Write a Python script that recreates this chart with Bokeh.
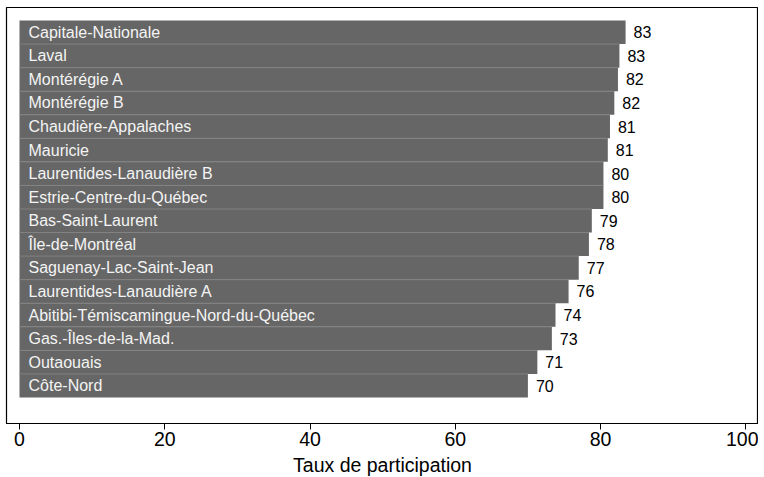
from bokeh.plotting import figure
from bokeh.models import ColumnDataSource, Range1d
from bokeh.core.properties import value
from bokeh.embed import file_html
from bokeh.resources import INLINE

regions = [
    "Capitale-Nationale", "Laval", "Montérégie A", "Montérégie B",
    "Chaudière-Appalaches", "Mauricie", "Laurentides-Lanaudière B",
    "Estrie-Centre-du-Québec", "Bas-Saint-Laurent", "Île-de-Montréal",
    "Saguenay-Lac-Saint-Jean", "Laurentides-Lanaudière A",
    "Abitibi-Témiscamingue-Nord-du-Québec", "Gas.-Îles-de-la-Mad.",
    "Outaouais", "Côte-Nord",
]
taux = [83.45, 82.6, 82.4, 81.9, 81.3, 81.0, 80.4, 80.4,
        78.8, 78.4, 77.0, 75.6, 73.8, 73.3, 71.3, 70.0]
x_ticks = [0, 20, 40, 60, 80, 100]
x_title = "Taux de participation"

FONT = "Liberation Sans"
n = len(regions)
ypos = [n - i for i in range(n)]
labels = [str(int(round(v))) for v in taux]

src = ColumnDataSource(dict(y=ypos, v=taux, name=regions, lab=labels))
sep_y = [ypos[i] - 0.5 for i in range(n - 1)]
sep_x1 = [min(taux[i], taux[i + 1]) for i in range(n - 1)]
sep = ColumnDataSource(dict(y=sep_y, x0=[0] * (n - 1), x1=sep_x1))

p = figure(frame_width=752, frame_height=416, output_backend="svg",
           toolbar_location=None, x_range=Range1d(-1.79, 101.75),
           y_range=Range1d(-0.604, 17.052),
           min_border_left=6, min_border_top=7, min_border_right=0,
           min_border_bottom=0)

p.hbar(y="y", left=0, right="v", height=1.0, source=src,
       fill_color="#666666", line_color=None)
p.segment(x0="x0", x1="x1", y0="y", y1="y", source=sep,
          line_color="#828282", line_width=1)
p.text(x=0, y="y", text="name", source=src, x_offset=9,
       text_baseline="middle", text_align="left",
       text_font=value(FONT), text_font_size="16px", text_color="#f4f4f4")
p.text(x="v", y="y", text="lab", source=src, x_offset=8,
       text_baseline="middle", text_align="left",
       text_font=value(FONT), text_font_size="16px", text_color="#000000")

p.yaxis.visible = False
p.xgrid.visible = False
p.ygrid.visible = False
p.outline_line_color = "#000000"
p.outline_line_width = 1.2
p.outline_line_alpha = 1.0

ax = p.xaxis[0]
ax.ticker = x_ticks
ax.axis_label = x_title
ax.axis_label_text_font = FONT
ax.axis_label_text_font_size = "19.5px"
ax.axis_label_text_font_style = "normal"
ax.axis_label_text_color = "#000000"
ax.axis_label_standoff = 5
ax.major_label_text_font = FONT
ax.major_label_text_font_size = "19.5px"
ax.major_label_text_color = "#000000"
ax.major_label_standoff = 2
ax.major_tick_in = 0
ax.major_tick_out = 6
ax.minor_tick_out = 0
ax.minor_tick_in = 0
ax.axis_line_color = "#000000"
ax.major_tick_line_color = "#000000"

p.background_fill_color = "white"
p.border_fill_color = "white"

open("out.html", "w").write(file_html(p, INLINE))
